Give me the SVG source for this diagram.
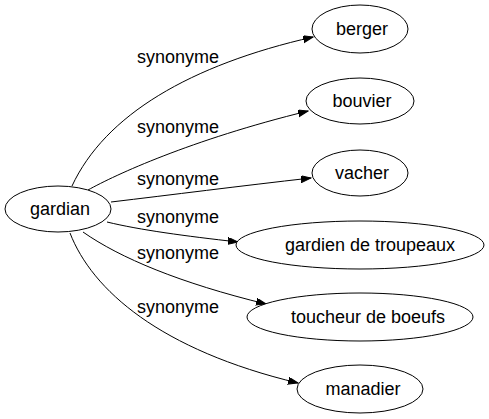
<svg xmlns="http://www.w3.org/2000/svg" width="489" height="419" viewBox="0 0 489 419">
<style>
.n ellipse{fill:#fff;stroke:#000;stroke-width:1}
text{font-family:"Liberation Sans",Arial,sans-serif;font-size:18px;fill:#000}
.n text{text-anchor:middle}
.e path{fill:none;stroke:#000;stroke-width:1;marker-end:url(#ah)}
.l text{text-anchor:middle}
</style>
<defs>
<marker id="ah" markerWidth="11" markerHeight="8" refX="10" refY="3.5" orient="auto" markerUnits="userSpaceOnUse">
<path d="M0,0 L10,3.5 L0,7 z" fill="#000" stroke="#000"/>
</marker>
</defs>
<rect width="489" height="419" fill="#fff"/>
<g id="edges" class="e">
<path d="M72,186 C105,115 190,65 313,37"/>
<path d="M88,190 C115,175 190,140 308,111"/>
<path d="M111,202 C170,195 240,186 311,178"/>
<path d="M107,222 C140,230 185,236 238,242"/>
<path d="M83,232 C120,258 180,283 266,304"/>
<path d="M70,233 C92,290 160,350 298,383"/>
</g>
<g id="labels" class="l">
<text x="178" y="63">synonyme</text>
<text x="178" y="133">synonyme</text>
<text x="178" y="185">synonyme</text>
<text x="178" y="223">synonyme</text>
<text x="178" y="259">synonyme</text>
<text x="178" y="313">synonyme</text>
</g>
<g id="gardian" class="n"><ellipse cx="58" cy="209" rx="53" ry="23"/><text x="60" y="215">gardian</text></g>
<g id="berger" class="n"><ellipse cx="360" cy="29" rx="48" ry="24"/><text x="362" y="35">berger</text></g>
<g id="bouvier" class="n"><ellipse cx="360" cy="101" rx="54" ry="23"/><text x="362" y="107">bouvier</text></g>
<g id="vacher" class="n"><ellipse cx="360" cy="173" rx="48" ry="23"/><text x="362" y="179">vacher</text></g>
<g id="gardien_de_troupeaux" class="n"><ellipse cx="360" cy="245" rx="124" ry="24"/><text x="370" y="251">gardien de troupeaux</text></g>
<g id="toucheur_de_boeufs" class="n"><ellipse cx="360" cy="317" rx="113" ry="24"/><text x="368" y="323">toucheur de boeufs</text></g>
<g id="manadier" class="n"><ellipse cx="360" cy="389" rx="63" ry="24"/><text x="363" y="395">manadier</text></g>
</svg>
